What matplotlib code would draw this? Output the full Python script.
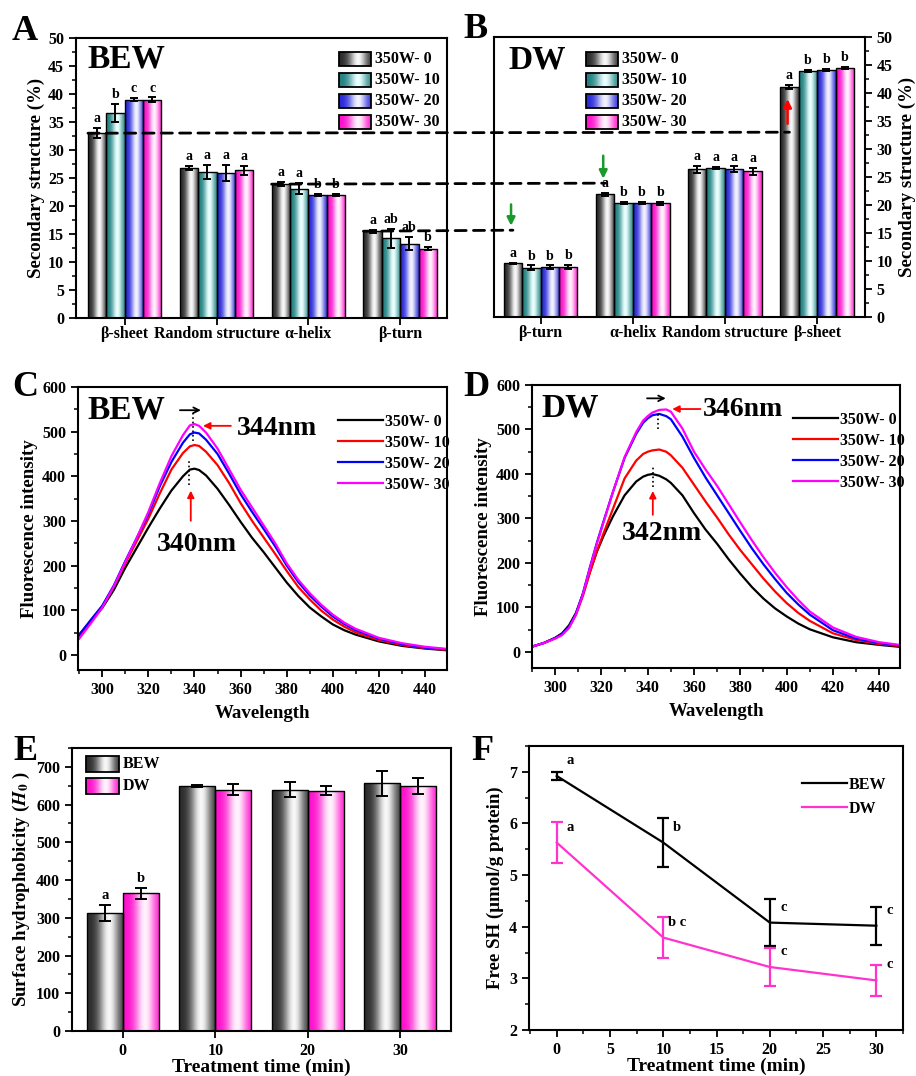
import numpy as np
import matplotlib
matplotlib.use('Agg')
import matplotlib.pyplot as plt
from matplotlib.patches import Rectangle, ConnectionPatch
from matplotlib.lines import Line2D
from matplotlib.ticker import MultipleLocator

plt.rcParams['font.family'] = ['Liberation Serif', 'DejaVu Serif']
plt.rcParams['font.weight'] = 'bold'
plt.rcParams['axes.labelweight'] = 'bold'
plt.rcParams['mathtext.fontset'] = 'stix'
plt.rcParams['axes.linewidth'] = 1.5

# ---------------- data ----------------
series_labels = ['350W- 0', '350W- 10', '350W- 20', '350W- 30']

bew_categories = ['β-sheet', 'Random structure', 'α-helix', 'β-turn']
bew_values = [[33.0, 36.6, 39.0, 39.0],
              [26.8, 26.1, 25.9, 26.4],
              [23.9, 23.1, 22.0, 22.0],
              [15.5, 14.2, 13.3, 12.4]]
bew_errors = [[0.9, 1.6, 0.3, 0.4],
              [0.3, 1.3, 1.4, 0.8],
              [0.4, 1.0, 0.2, 0.2],
              [0.3, 1.7, 1.2, 0.3]]
bew_letters = [['a', 'b', 'c', 'c'],
               ['a', 'a', 'a', 'a'],
               ['a', 'a', 'b', 'b'],
               ['a', 'ab', 'ab', 'b']]

dw_categories = ['β-turn', 'α-helix', 'Random structure', 'β-sheet']
dw_values = [[9.6, 8.8, 8.9, 8.9],
             [21.9, 20.3, 20.3, 20.3],
             [26.4, 26.6, 26.4, 26.0],
             [41.1, 43.9, 44.1, 44.5]]
dw_errors = [[0.1, 0.4, 0.3, 0.4],
             [0.3, 0.2, 0.2, 0.3],
             [0.6, 0.2, 0.5, 0.6],
             [0.4, 0.2, 0.2, 0.2]]
dw_letters = [['a', 'b', 'b', 'b'],
              ['a', 'b', 'b', 'b'],
              ['a', 'a', 'a', 'a'],
              ['a', 'b', 'b', 'b']]

wavelength_bew = [290, 295, 300, 305, 310, 315, 320, 325, 330, 335, 338, 340, 342, 345,
                  350, 355, 360, 365, 370, 375, 380, 385, 390, 395, 400, 405, 410, 420,
                  430, 440, 450]
bew_fl_0 = [45, 75, 105, 145, 195, 240, 285, 328, 368, 400, 415, 417, 414, 402,
            372, 336, 298, 262, 230, 196, 162, 132, 106, 86, 68, 55, 45, 30, 20, 14, 10]
bew_fl_10 = [42, 75, 108, 152, 205, 255, 305, 362, 415, 452, 467, 470, 468, 455,
             425, 385, 340, 300, 263, 226, 188, 152, 124, 99, 79, 63, 50, 33, 22, 15, 11]
bew_fl_20 = [45, 78, 110, 155, 210, 262, 315, 378, 432, 475, 494, 498, 496, 482,
             450, 406, 360, 320, 282, 243, 200, 163, 133, 108, 86, 69, 55, 36, 24, 16, 12]
bew_fl_30 = [36, 70, 106, 153, 208, 262, 320, 385, 445, 492, 514, 517, 513, 498,
             462, 416, 370, 330, 290, 250, 205, 168, 138, 112, 90, 72, 58, 38, 26, 18, 13]

wavelength_dw = [290, 295, 300, 303, 306, 309, 312, 315, 318, 321, 325, 330, 335, 338,
                 340, 342, 345, 348, 350, 355, 360, 365, 370, 375, 380, 385, 390, 395,
                 400, 405, 410, 420, 430, 440, 450]
dw_fl_0 = [12, 20, 32, 42, 60, 88, 130, 180, 225, 262, 305, 352, 383, 394,
           398, 400, 396, 388, 380, 352, 312, 275, 243, 208, 176, 146, 120, 98,
           80, 64, 51, 33, 22, 16, 11]
dw_fl_10 = [12, 20, 31, 40, 56, 84, 126, 178, 226, 268, 322, 390, 430, 445,
            450, 453, 455, 450, 442, 414, 376, 338, 302, 264, 229, 197, 165, 136,
            110, 88, 70, 42, 27, 18, 13]
dw_fl_20 = [12, 20, 31, 40, 56, 86, 132, 190, 245, 295, 360, 436, 490, 515,
            525, 532, 535, 530, 523, 484, 436, 392, 352, 312, 272, 233, 197, 164,
            133, 107, 84, 49, 30, 20, 14]
dw_fl_30 = [12, 20, 30, 38, 54, 84, 130, 188, 243, 293, 360, 438, 494, 520,
            530, 538, 544, 545, 540, 502, 450, 410, 373, 332, 291, 251, 213, 178,
            146, 117, 91, 55, 34, 22, 15]

time_labels = ['0', '10', '20', '30']
h0_bew = [313, 649, 640, 657]
h0_bew_err = [21, 2, 21, 33]
h0_dw = [365, 640, 637, 650]
h0_dw_err = [15, 15, 11, 21]
h0_letters_bew = ['a', '', '', '']
h0_letters_dw = ['b', '', '', '']

time_min = [0, 10, 20, 30]
sh_bew = [6.92, 5.63, 4.08, 4.02]
sh_bew_err = [0.08, 0.47, 0.46, 0.37]
sh_dw = [5.63, 3.79, 3.22, 2.96]
sh_dw_err = [0.40, 0.40, 0.36, 0.30]
sh_letters_bew = ['a', 'b', 'c', 'c']
sh_letters_dw = ['a', 'b c', 'c', 'c']

# ---------------- style helpers ----------------
bar_base = [(0.16, 0.16, 0.16), (0.12, 0.50, 0.50), (0.15, 0.15, 0.85), (1.0, 0.05, 0.80)]
bar_light = [(0.97, 0.97, 0.97), (0.92, 1.0, 1.0), (0.95, 0.95, 1.0), (1.0, 0.95, 0.99)]
line_colors = ['black', '#ff0000', '#0000ff', '#ff00ff']
BOLD = dict(fontweight='bold')
LABEL_FS = 13.6

W, H = 916, 1076
fig = plt.figure(figsize=(W / 100, H / 100), dpi=100)


def px_axes(l, t, r, b):
    return fig.add_axes([l / W, 1 - b / H, (r - l) / W, (b - t) / H])


def grad_img(base, light):
    t = np.linspace(0, 1, 80)
    w = np.exp(-((t - 0.6) / 0.28) ** 2)
    rgb = (1 - w)[:, None] * np.array(base) + w[:, None] * np.array(light)
    return rgb[None, :, :]


def shade_bars(ax, bars, base, light):
    img = grad_img(base, light)
    for b in bars:
        x0, y0 = b.get_x(), b.get_y()
        im = ax.imshow(img, extent=[x0, x0 + b.get_width(), y0, y0 + b.get_height()],
                       aspect='auto', zorder=1.5, interpolation='bilinear')
        im.set_clip_path(b)


def grad_legend(ax, labels, bases, lights, x0, x1, ys, h, tx, fs):
    for lab, base, light, y in zip(labels, bases, lights, ys):
        ax.imshow(grad_img(base, light), extent=[x0, x1, y - h / 2, y + h / 2],
                  transform=ax.transAxes, aspect='auto', zorder=5, interpolation='bilinear')
        ax.add_patch(Rectangle((x0, y - h / 2), x1 - x0, h, transform=ax.transAxes,
                               facecolor='none', edgecolor='black', lw=1.3, zorder=6))
        ax.text(tx, y, lab, transform=ax.transAxes, va='center', ha='left',
                fontsize=fs, **BOLD)


def style_ticks(ax, fs=11.5):
    ax.tick_params(which='major', direction='out', length=5, width=1.3, labelsize=fs)
    ax.tick_params(which='minor', direction='out', length=3, width=1.1)


def grouped_bars(ax, values, errors, letters):
    n = len(series_labels)
    width = 0.2
    for s in range(n):
        xs = [g + (s - (n - 1) / 2) * width for g in range(len(values))]
        hs = [values[g][s] for g in range(len(values))]
        es = [errors[g][s] for g in range(len(values))]
        bars = ax.bar(xs, hs, width, facecolor='none', edgecolor='black', lw=1.0, zorder=2)
        shade_bars(ax, bars, bar_base[s], bar_light[s])
        ax.errorbar(xs, hs, yerr=es, fmt='none', ecolor='black', elinewidth=1.4,
                    capsize=3, capthick=1.4, zorder=3)
        for x, h_, e, g in zip(xs, hs, es, range(len(values))):
            ax.text(x, h_ + e + 0.5, letters[g][s], ha='center', va='bottom',
                    fontsize=10, **BOLD)
    return width


# ---------------- Panel A ----------------
axA = px_axes(76, 38, 447, 318)
grouped_bars(axA, bew_values, bew_errors, bew_letters)
axA.set_xticks(range(4))
axA.set_xticklabels(bew_categories, fontsize=10.5)
axA.set_ylabel('Secondary structure (%)', fontsize=LABEL_FS, labelpad=2)
axA.yaxis.set_major_locator(MultipleLocator(5))
axA.yaxis.set_minor_locator(MultipleLocator(2.5))
style_ticks(axA)
axA.tick_params(axis='x', pad=1)
axA.text(0.03, 0.925, 'BEW', transform=axA.transAxes, fontsize=24, va='center', **BOLD)
grad_legend(axA, series_labels, bar_base, bar_light, 0.709, 0.795,
            [0.925, 0.85, 0.775, 0.70], 0.05, 0.806, 11.5)
axA.set_xlim(-0.53, 3.51)
axA.set_ylim(0, 50)

# ---------------- Panel B ----------------
axB = px_axes(494, 37, 865, 317)
grouped_bars(axB, dw_values, dw_errors, dw_letters)
axB.set_xticks(range(4))
axB.set_xticklabels(dw_categories, fontsize=10.5)
axB.yaxis.tick_right()
axB.yaxis.set_label_position('right')
axB.set_ylabel('Secondary structure (%)', fontsize=LABEL_FS, labelpad=4)
axB.yaxis.set_major_locator(MultipleLocator(5))
axB.yaxis.set_minor_locator(MultipleLocator(2.5))
style_ticks(axB)
axB.tick_params(axis='x', pad=1)
axB.text(0.038, 0.918, 'DW', transform=axB.transAxes, fontsize=24, va='center', **BOLD)
grad_legend(axB, series_labels, bar_base, bar_light, 0.248, 0.334,
            [0.921, 0.846, 0.771, 0.696], 0.05, 0.345, 11.5)
green = '#1a9a2a'
axB.annotate('', xy=(-0.32, 15.8), xytext=(-0.32, 20.6),
             arrowprops=dict(arrowstyle='-|>', color=green, lw=1.8, mutation_scale=12))
axB.annotate('', xy=(0.68, 24.2), xytext=(0.68, 29.3),
             arrowprops=dict(arrowstyle='-|>', color=green, lw=1.8, mutation_scale=12))
axB.annotate('', xy=(2.68, 39.4), xytext=(2.68, 34.0),
             arrowprops=dict(arrowstyle='-|>', color='red', lw=1.8, mutation_scale=12))
axB.set_xlim(-0.505, 3.52)
axB.set_ylim(0, 50)

# dashed connectors between A and B (from BEW 350W-0 values)
conn = [((-0.4, bew_values[0][0]), (2.7, bew_values[0][0])),
        ((1.6, bew_values[2][0]), (0.7, bew_values[2][0])),
        ((2.6, bew_values[3][0]), (-0.3, bew_values[3][0]))]
for (pa, pb) in conn:
    cp = ConnectionPatch(xyA=pa, coordsA=axA.transData, xyB=pb, coordsB=axB.transData,
                         color='black', lw=2.0, linestyle=(0, (4, 2.6)), zorder=10)
    fig.add_artist(cp)


# ---------------- Panels C & D ----------------
def spectra(ax, wl, curves, tag, xlim, ylim, leg_x):
    for ys, c, lab in zip(curves, line_colors, series_labels):
        ax.plot(wl, ys, color=c, lw=1.6, label=lab)
    ax.set_xlim(*xlim)
    ax.set_ylim(*ylim)
    ax.xaxis.set_major_locator(MultipleLocator(20))
    ax.xaxis.set_minor_locator(MultipleLocator(10))
    ax.yaxis.set_major_locator(MultipleLocator(100))
    ax.yaxis.set_minor_locator(MultipleLocator(50))
    style_ticks(ax)
    ax.set_xlabel('Wavelength', fontsize=LABEL_FS, labelpad=5)
    ax.set_ylabel('Fluorescence intensity', fontsize=LABEL_FS, labelpad=3)
    ax.text(0.025, 0.919, tag, transform=ax.transAxes, fontsize=24, va='center', **BOLD)
    ax.legend(loc='upper left', bbox_to_anchor=(leg_x, 0.945), frameon=False,
              prop=dict(size=11.5, weight='bold'), handlelength=2.8, handletextpad=0.1,
              labelspacing=0.32, borderpad=0.2)


axC = px_axes(78, 387, 447, 670)
spectra(axC, wavelength_bew, [bew_fl_0, bew_fl_10, bew_fl_20, bew_fl_30], 'BEW',
        (289.5, 449.5), (-34, 600), 0.675)
axC.annotate('', xy=(344, 548), xytext=(332.5, 548),
             arrowprops=dict(arrowstyle='->', color='black', lw=1.3))
axC.plot([339.5, 339.5], [480, 545], ls=':', color='black', lw=1.2)
axC.plot([337.5, 337.5], [380, 435], ls=':', color='black', lw=1.2)
axC.annotate('', xy=(342.5, 513), xytext=(357, 513),
             arrowprops=dict(arrowstyle='-|>', color='red', lw=1.3, mutation_scale=10))
axC.text(358.5, 508, '344nm', fontsize=20, va='center', ha='left', **BOLD)
axC.annotate('', xy=(338.4, 374), xytext=(338.4, 294),
             arrowprops=dict(arrowstyle='-|>', color='red', lw=1.3, mutation_scale=10))
axC.text(341, 248, '340nm', fontsize=20, va='center', ha='center', **BOLD)

axD = px_axes(532, 385, 900, 668)
spectra(axD, wavelength_dw, [dw_fl_0, dw_fl_10, dw_fl_20, dw_fl_30], 'DW',
        (290, 449), (-36, 600), 0.68)
axD.annotate('', xy=(349, 570), xytext=(338.5, 570),
             arrowprops=dict(arrowstyle='->', color='black', lw=1.3))
axD.plot([344.6, 344.6], [500, 540], ls=':', color='black', lw=1.2)
axD.plot([342.2, 342.2], [370, 415], ls=':', color='black', lw=1.2)
axD.annotate('', xy=(349.4, 546), xytext=(364, 546),
             arrowprops=dict(arrowstyle='-|>', color='red', lw=1.3, mutation_scale=10))
axD.text(364, 546, '346nm', fontsize=20, va='center', ha='left', **BOLD)
axD.annotate('', xy=(342.2, 368), xytext=(342.2, 302),
             arrowprops=dict(arrowstyle='-|>', color='red', lw=1.3, mutation_scale=10))
axD.text(346, 266, '342nm', fontsize=20, va='center', ha='center', **BOLD)

# ---------------- Panel E ----------------
axE = px_axes(72, 748, 451, 1031)
xE = np.arange(len(time_labels))
bwE = 0.39
for vals, errs, lets, off, si in [(h0_bew, h0_bew_err, h0_letters_bew, -bwE / 2, 0),
                                  (h0_dw, h0_dw_err, h0_letters_dw, bwE / 2, 3)]:
    bars = axE.bar(xE + off, vals, bwE, facecolor='none', edgecolor='black', lw=1.0, zorder=2)
    shade_bars(axE, bars, bar_base[si], bar_light[si])
    axE.errorbar(xE + off, vals, yerr=errs, fmt='none', ecolor='black', elinewidth=1.4,
                 capsize=4, capthick=1.4, zorder=3)
    for x, v, e, l in zip(xE + off, vals, errs, lets):
        if l:
            axE.text(x, v + e + 8, l, ha='center', va='bottom', fontsize=10.5, **BOLD)
axE.set_xticks(xE)
axE.set_xticklabels(time_labels)
axE.yaxis.set_major_locator(MultipleLocator(100))
axE.yaxis.set_minor_locator(MultipleLocator(50))
style_ticks(axE)
axE.set_xlabel('Treatment time (min)', fontsize=14, labelpad=0)
axE.set_ylabel(r'Surface hydrophobicity ($\mathit{H}_{\mathit{0}}$ )', fontsize=LABEL_FS,
               labelpad=3)
grad_legend(axE, ['BEW', 'DW'], [bar_base[0], bar_base[3]], [bar_light[0], bar_light[3]],
            0.037, 0.124, [0.943, 0.866], 0.055, 0.133, 11.5)
axE.set_xlim(-0.55, 3.55)
axE.set_ylim(0, 750)

# ---------------- Panel F ----------------
axF = px_axes(529, 746, 903, 1030)
f_handles = []
for vals, errs, lets, c, lab in [(sh_bew, sh_bew_err, sh_letters_bew, 'black', 'BEW'),
                                 (sh_dw, sh_dw_err, sh_letters_dw, '#ff33cc', 'DW')]:
    axF.errorbar(time_min, vals, yerr=errs, color=c, lw=1.6, elinewidth=1.6,
                 capsize=4, capthick=1.6)
    f_handles.append(Line2D([], [], color=c, lw=1.6, label=lab))
    for x, v, l in zip(time_min, vals, lets):
        axF.text(x + 1.3, v + 0.3, l, ha='center', va='center', fontsize=10.5, **BOLD)
axF.set_xlim(-2.6, 32.5)
axF.set_ylim(2, 7.5)
axF.xaxis.set_major_locator(MultipleLocator(5))
axF.xaxis.set_minor_locator(MultipleLocator(2.5))
axF.yaxis.set_major_locator(MultipleLocator(1))
axF.yaxis.set_minor_locator(MultipleLocator(0.5))
style_ticks(axF)
axF.set_xlabel('Treatment time (min)', fontsize=14, labelpad=0)
axF.set_ylabel('Free SH (μmol/g protein)', fontsize=LABEL_FS, labelpad=4)
axF.legend(handles=f_handles, loc='upper left', bbox_to_anchor=(0.70, 0.93), frameon=False,
           prop=dict(size=11.5, weight='bold'), handlelength=2.8, handletextpad=0.1,
           labelspacing=0.5, borderpad=0.2)

# ---------------- panel letters ----------------
for lab, (x, y) in zip('ABCDEF', [(25, 31), (476, 30), (25, 388), (476, 387),
                                  (25, 752), (482, 752)]):
    fig.text(x / W, 1 - y / H, lab, fontsize=26, ha='center', va='center', **BOLD)

fig.savefig('out.png', dpi=100)
